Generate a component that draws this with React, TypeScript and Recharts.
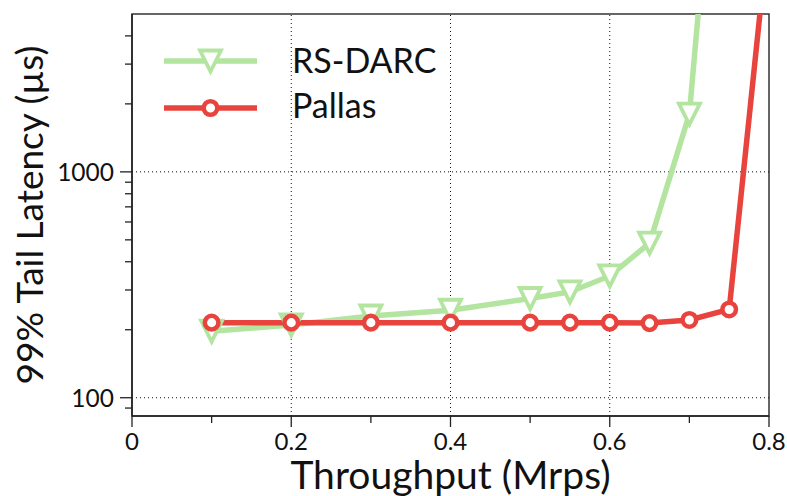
import React from "react";
import {
  Label,
  Line,
  LineChart,
  ReferenceArea,
  ReferenceLine,
  XAxis,
  YAxis,
} from "recharts";

// throughput (Mrps) and 99% tail latency (µs)
const rsdarcX = [0.1, 0.2, 0.3, 0.4, 0.5, 0.55, 0.6, 0.65, 0.7, 0.72];
const rsdarcY = [197, 210, 230, 244, 275, 294, 346, 484, 1803, 11500];
const pallasX = [0.1, 0.2, 0.3, 0.4, 0.5, 0.55, 0.6, 0.65, 0.7, 0.75, 0.8];
const pallasY = [215, 215, 215, 215, 215, 215, 215, 214, 221, 246, 12200];

const xTicks = [0, 0.1, 0.2, 0.3, 0.4, 0.5, 0.6, 0.7, 0.8];
const yTicks = [90, 100, 200, 300, 400, 500, 600, 700, 800, 900, 1000, 2000, 3000, 4000];
const yMajor = [100, 1000];
const xGrid = [0.2, 0.4, 0.6];
const yGrid = [100, 1000];

const GREEN = "#b3e5a0";
const RED = "#e8433c";
const FONT = "Lato, 'Noto Sans', sans-serif";

const rsdarc = rsdarcX.map((x, i) => ({ x, y: rsdarcY[i] }));
const pallas = pallasX.map((x, i) => ({ x, y: pallasY[i] }));

function XTick({ x, y, payload }: any) {
  const v = payload.value;
  const major = Math.round(v * 10) % 2 === 0;
  return (
    <g>
      <line x1={x} x2={x} y1={y} y2={y + (major ? 11 : 7)} stroke="#222" strokeWidth={1.3} />
      {major && (
        <text x={x} y={y + 34} textAnchor="middle" fontSize={24} fontFamily={FONT} fill="#111">
          {v === 0 ? "0" : v.toFixed(1)}
        </text>
      )}
    </g>
  );
}

function YTick({ x, y, payload }: any) {
  const major = yMajor.includes(payload.value);
  return (
    <g>
      <line x1={x - (major ? 12 : 7)} x2={x} y1={y} y2={y} stroke="#222" strokeWidth={1.3} />
      {major && (
        <text x={x - 18} y={y} dy="0.36em" textAnchor="end" fontSize={24.5} fontFamily={FONT} fill="#111">
          {payload.value}
        </text>
      )}
    </g>
  );
}

function TriangleDot({ cx, cy }: any) {
  if (cx == null || cy == null) return null;
  const s = 10.5;
  return (
    <polygon
      points={`${cx - s},${cy - s} ${cx + s},${cy - s} ${cx},${cy + s}`}
      fill="#fff"
      stroke={GREEN}
      strokeWidth={3.8}
      strokeLinejoin="miter"
    />
  );
}

function CircleDot({ cx, cy }: any) {
  if (cx == null || cy == null) return null;
  return <circle cx={cx} cy={cy} r={6.8} fill="#fff" stroke={RED} strokeWidth={4.5} />;
}

function YTitle({ viewBox }: any) {
  const cx = 43;
  const cy = viewBox.y + viewBox.height / 2;
  return (
    <text
      x={cx}
      y={cy}
      transform={`rotate(-90, ${cx}, ${cy})`}
      textAnchor="middle"
      fontSize={37}
      fontFamily={FONT}
      fill="#111"
    >
      99% Tail Latency (µs)
    </text>
  );
}

function XTitle({ viewBox }: any) {
  return (
    <text
      x={viewBox.x + viewBox.width / 2}
      y={viewBox.y + 73}
      textAnchor="middle"
      fontSize={39}
      fontFamily={FONT}
      fill="#111"
    >
      Throughput (Mrps)
    </text>
  );
}

function LegendBox() {
  return (
    <svg width={300} height={110} style={{ position: "absolute", left: 150, top: 30 }}>
      <line x1={14} x2={107} y1={31} y2={31} stroke={GREEN} strokeWidth={5.5} />
      <TriangleDot cx={60.5} cy={31} />
      <text x={142} y={43} fontSize={34} fontFamily={FONT} fill="#111">
        RS-DARC
      </text>
      <line x1={14} x2={107} y1={78} y2={78} stroke={RED} strokeWidth={5.5} />
      <CircleDot cx={60.5} cy={78} />
      <text x={142} y={88} fontSize={34} fontFamily={FONT} fill="#111">
        Pallas
      </text>
    </svg>
  );
}

export default function App() {
  return (
    <div style={{ position: "absolute", left: 0, top: 0, width: 787, height: 496, background: "#fff" }}>
      <LineChart width={787} height={496} margin={{ top: 14, right: 18, bottom: 0, left: 0 }}>
        <XAxis
          dataKey="x"
          type="number"
          domain={[0, 0.8]}
          ticks={xTicks}
          interval={0}
          height={80}
          tickSize={0}
          tickMargin={0}
          tick={<XTick />}
          axisLine={{ stroke: "#222", strokeWidth: 1.5 }}
          allowDataOverflow
        >
          <Label content={<XTitle />} />
        </XAxis>
        <YAxis
          dataKey="y"
          type="number"
          scale="log"
          domain={[83, 5000]}
          ticks={yTicks}
          interval={0}
          width={132}
          tickSize={0}
          tickMargin={0}
          tick={<YTick />}
          axisLine={{ stroke: "#222", strokeWidth: 1.5 }}
          allowDataOverflow
        >
          <Label content={<YTitle />} />
        </YAxis>
        {xGrid.map((v) => (
          <ReferenceLine key={`gx${v}`} x={v} stroke="#111" strokeDasharray="1 3" strokeWidth={1} />
        ))}
        {yGrid.map((v) => (
          <ReferenceLine key={`gy${v}`} y={v} stroke="#111" strokeDasharray="1 3" strokeWidth={1} />
        ))}
        <ReferenceArea x1={0} x2={0.8} y1={83} y2={5000} fill="none" stroke="#333" strokeWidth={1.5} />
        <Line
          data={rsdarc}
          dataKey="y"
          stroke={GREEN}
          strokeWidth={5.5}
          dot={<TriangleDot />}
          activeDot={false}
          isAnimationActive={false}
        />
        <Line
          data={pallas}
          dataKey="y"
          stroke={RED}
          strokeWidth={5.5}
          dot={<CircleDot />}
          activeDot={false}
          isAnimationActive={false}
        />
      </LineChart>
      <LegendBox />
    </div>
  );
}
